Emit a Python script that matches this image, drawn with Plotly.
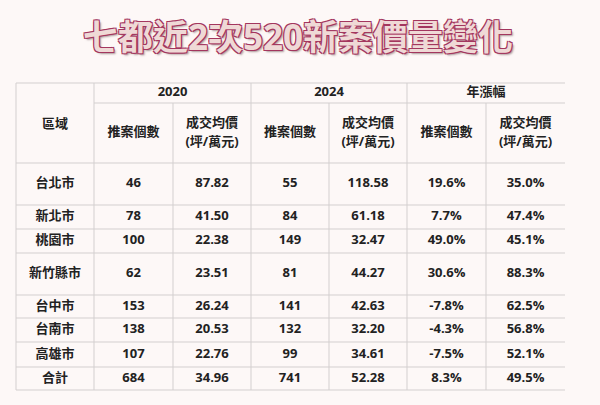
import plotly.graph_objects as go

# -------------------------
# Table data
# -------------------------
regions = ["台北市", "新北市", "桃園市", "新竹縣市", "台中市", "台南市", "高雄市", "合計"]
count_2020 = [46, 78, 100, 62, 153, 138, 107, 684]
price_2020 = [87.82, 41.50, 22.38, 23.51, 26.24, 20.53, 22.76, 34.96]
count_2024 = [55, 84, 149, 81, 141, 132, 99, 741]
price_2024 = [118.58, 61.18, 32.47, 44.27, 42.63, 32.20, 34.61, 52.28]
count_chg = [19.6, 7.7, 49.0, 30.6, -7.8, -4.3, -7.5, 8.3]
price_chg = [35.0, 47.4, 45.1, 88.3, 62.5, 56.8, 52.1, 49.5]

years = ["2020", "2024", "年漲幅"]
count_header = "推案個數"
price_header = ["成交均價", "(坪/萬元)"]
title = "七都近2次520新案價量變化"

# -------------------------
# Grid layout (pixel space)
# -------------------------
col_edges = [16, 94, 173, 251, 329, 407, 486, 565]
head_top, head_mid, head_bot = 83, 103, 163
row_edges = [163, 205, 229, 253, 295, 318, 342, 367, 390]

bg = "#fdf8f7"
line_col = "#d3cfcf"
txt_col = "#222222"
font_fam = "Open Sans, Noto Sans CJK TC, sans-serif"
cell_font = dict(family=font_fam, size=13, color=txt_col, weight="bold")

fig = go.Figure()

col_mid = [(col_edges[i] + col_edges[i + 1]) / 2 for i in range(7)]
row_mid = [(row_edges[i] + row_edges[i + 1]) / 2 for i in range(len(regions))]

columns = [
    regions,
    [str(v) for v in count_2020],
    [f"{v:.2f}" for v in price_2020],
    [str(v) for v in count_2024],
    [f"{v:.2f}" for v in price_2024],
    [f"{v:.1f}%" for v in count_chg],
    [f"{v:.1f}%" for v in price_chg],
]


def add_text(xs, ys, texts):
    fig.add_trace(go.Scatter(
        x=xs, y=ys, mode="text", text=texts, textfont=cell_font,
        hoverinfo="skip", showlegend=False,
    ))


# body cells
for ci, col in enumerate(columns):
    add_text([col_mid[ci]] * len(col), row_mid, col)

# header: 區域
add_text([col_mid[0]], [125], ["區域"])

# header: years
year_x = [(col_edges[1 + 2 * i] + col_edges[3 + 2 * i]) / 2 for i in range(3)]
add_text(year_x, [(head_top + head_mid) / 2] * 3, years)

# header: sub headers
count_x = col_mid[1::2]
price_x = col_mid[2::2]
sub_mid = (head_mid + head_bot) / 2
add_text(count_x, [sub_mid] * 3, [count_header] * 3)
add_text(price_x, [sub_mid - 9.5] * 3, [price_header[0]] * 3)
add_text(price_x, [sub_mid + 9.5] * 3, [price_header[1]] * 3)

# -------------------------
# Grid lines
# -------------------------
line = dict(color=line_col, width=1)
h_lines = [(head_top, col_edges[0]), (head_mid, col_edges[1]), (head_bot, col_edges[0])]
h_lines += [(y, col_edges[0]) for y in row_edges[1:]]
for y, x0 in h_lines:
    fig.add_shape(type="line", x0=x0, x1=col_edges[-1], y0=y, y1=y, line=line)

for i, x in enumerate(col_edges[:-1]):
    y0 = head_mid if i in (2, 4, 6) else head_top
    fig.add_shape(type="line", x0=x, x1=x, y0=y0, y1=row_edges[-1], line=line)

# -------------------------
# Title
# -------------------------
outline = "#a3365e"
fig.add_annotation(
    x=298, y=36, xref="x", yref="y", text=title, showarrow=False,
    font=dict(
        family=font_fam, size=35, color="#efd9d6", weight="bold",
        shadow=(f"1px 1px 0 {outline}, -1px -1px 0 {outline}, 1px -1px 0 {outline}, "
                f"-1px 1px 0 {outline}, 2px 2px 2px rgba(90,60,60,0.5)"),
    ),
)

fig.update_layout(
    width=600, height=405,
    margin=dict(l=0, r=0, t=0, b=0),
    paper_bgcolor=bg, plot_bgcolor=bg,
    xaxis=dict(range=[0, 600], visible=False, fixedrange=True),
    yaxis=dict(range=[405, 0], visible=False, fixedrange=True),
)

fig.write_html("out.html", config={"displayModeBar": False},
               post_script="document.body.style.margin='0';")
